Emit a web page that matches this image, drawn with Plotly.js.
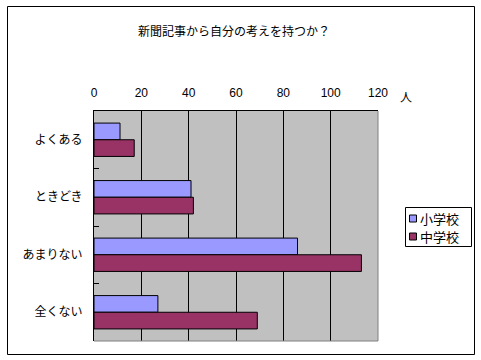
<!DOCTYPE html>
<html><head><meta charset="utf-8">
<script src="https://cdn.plot.ly/plotly-3.0.1.min.js"></script>
<style>body{margin:0;padding:0;background:#fff}#c{width:481px;height:360px}</style>
</head><body><div id="c"></div>
<script>
const categories = ["よくある", "ときどき", "あまりない", "全くない"];
const elementary = [11, 41, 86, 27];
const juniorHigh = [17, 42, 113, 69];
const seriesNames = ["小学校", "中学校"];
const seriesColors = ["#9999FF", "#993366"];
const xTicks = [0, 20, 40, 60, 80, 100, 120];

const font = "'MS PGothic', 'Noto Sans CJK JP', sans-serif";
const L = 94, R = 378, T = 111, B = 341, W = 481, H = 360;
const px = x => (x - L) / (R - L);
const py = y => (B - y) / (B - T);

const data = [
  {type: "bar", orientation: "h", name: seriesNames[0], y: categories, x: elementary,
   marker: {color: seriesColors[0], line: {color: "#000", width: 1}}},
  {type: "bar", orientation: "h", name: seriesNames[1], y: categories, x: juniorHigh,
   marker: {color: seriesColors[1], line: {color: "#000", width: 1}}}
];

const shapes = [
  {type: "rect", xref: "paper", yref: "paper", x0: px(7.5), x1: px(474.5), y0: py(6.5), y1: py(354.5),
   line: {color: "#000", width: 1}, fillcolor: "rgba(0,0,0,0)", layer: "above"},
  {type: "line", xref: "paper", yref: "paper", x0: 1, x1: 1, y0: 0, y1: 1, line: {color: "#808080", width: 1}},
  {type: "line", xref: "paper", yref: "paper", x0: 0, x1: 1, y0: 0, y1: 0, line: {color: "#808080", width: 1}},
  {type: "rect", xref: "paper", yref: "paper", x0: px(405.5), x1: px(471.5), y0: py(207.5), y1: py(246.5),
   line: {color: "#000", width: 1}, fillcolor: "#fff", layer: "above"}
];
const annotations = [
  {text: "人", xref: "paper", yref: "paper", x: px(406), y: py(97), xanchor: "center", yanchor: "middle",
   showarrow: false, font: {size: 12, family: font}}
];
seriesNames.forEach((n, i) => {
  const cy = 218.5 + i * 18;
  shapes.push({type: "rect", xref: "paper", yref: "paper", x0: px(409.5), x1: px(416.5), y0: py(cy - 3.5), y1: py(cy + 3.5),
    line: {color: "#000", width: 1}, fillcolor: seriesColors[i], layer: "above"});
  annotations.push({text: n, xref: "paper", yref: "paper", x: px(418), y: py(cy), xanchor: "left", yanchor: "middle",
    showarrow: false, font: {size: 13, family: font}});
});

const layout = {
  width: W, height: H,
  margin: {l: L, r: W - R, t: T, b: H - B, pad: 0, autoexpand: false},
  paper_bgcolor: "#fff", plot_bgcolor: "#C0C0C0",
  font: {family: font, size: 12, color: "#000"},
  title: {text: "新聞記事から自分の考えを持つか？", x: 234 / W, xanchor: "center", y: 1 - 32 / H, yanchor: "middle", font: {size: 12, family: font}},
  barmode: "group", bargap: 0.42, bargroupgap: 0,
  showlegend: false,
  xaxis: {side: "top", range: [0, 120], tickvals: xTicks, ticktext: xTicks.map(String),
          showgrid: true, gridcolor: "#000", gridwidth: 1, zeroline: false,
          showline: true, linecolor: "#000", linewidth: 1, mirror: false, ticks: "",
          ticklabelstandoff: 8, tickfont: {family: "Arial, 'Liberation Sans', sans-serif", size: 12}},
  yaxis: {autorange: "reversed", type: "category", showline: true, linecolor: "#000", linewidth: 1,
          ticks: "inside", ticklen: 5, tickcolor: "#000", tickson: "boundaries", showgrid: false,
          ticklabelstandoff: 8, tickfont: {size: 12, family: font}},
  shapes: shapes,
  annotations: annotations
};
Plotly.newPlot("c", data, layout, {staticPlot: true, displayModeBar: false});
</script></body></html>
